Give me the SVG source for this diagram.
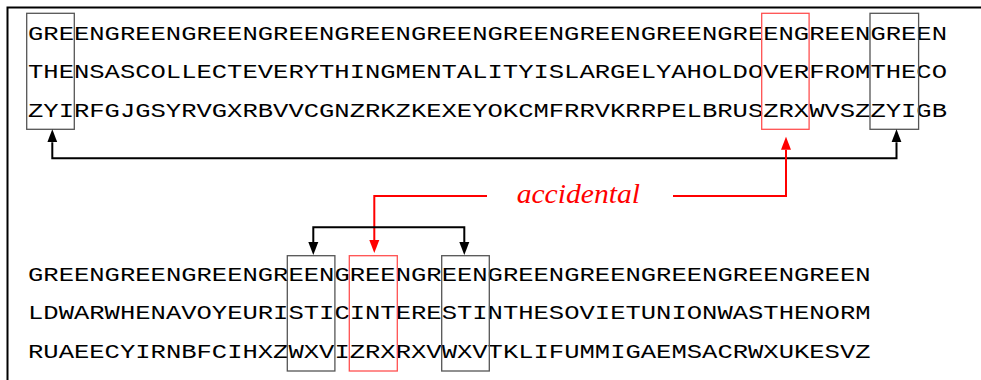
<svg xmlns="http://www.w3.org/2000/svg" width="981" height="380" viewBox="0 0 981 380">
<defs>
<style>
.tt{font-family:"Liberation Mono","DejaVu Sans Mono",monospace;font-size:20.5px;fill:#000;}
.box{fill:none;stroke:#555;stroke-width:1.3;}
.rbox{fill:none;stroke:#ff5050;stroke-width:1.3;}
.conn{fill:none;stroke:#000;stroke-width:2;}
.rconn{fill:none;stroke:#ff0000;stroke-width:2;}
.lbl{font-family:"Liberation Serif","DejaVu Serif",serif;font-style:italic;font-size:27px;fill:#ff0000;}
</style>
<marker id="ah" markerUnits="userSpaceOnUse" markerWidth="14" markerHeight="12" refX="0" refY="5" orient="auto-start-reverse" viewBox="0 0 14 10">
<path d="M0,0 L13,5 L0,10 z" fill="#000"/>
</marker>
<marker id="rah" markerUnits="userSpaceOnUse" markerWidth="14" markerHeight="12" refX="0" refY="5" orient="auto-start-reverse" viewBox="0 0 14 10">
<path d="M0,0 L13,5 L0,10 z" fill="#ff0000"/>
</marker>
</defs>
<rect width="981" height="380" fill="#fff"/>
<path d="M7.5,380 V7.5 H981" fill="none" stroke="#000" stroke-width="2"/>

<g id="top-text">
<text class="tt" x="28" y="39.5" textLength="919" lengthAdjust="spacingAndGlyphs">GREENGREENGREENGREENGREENGREENGREENGREENGREENGREENGREENGREEN</text>
<text class="tt" x="28" y="78" textLength="919" lengthAdjust="spacingAndGlyphs">THENSASCOLLECTEVERYTHINGMENTALITYISLARGELYAHOLDOVERFROMTHECO</text>
<text class="tt" x="28" y="116.7" textLength="919" lengthAdjust="spacingAndGlyphs">ZYIRFGJGSYRVGXRBVVCGNZRKZKEXEYOKCMFRRVKRRPELBRUSZRXWVSZZYIGB</text>
</g>
<g id="bottom-text">
<text class="tt" x="28" y="280.7" textLength="842.6" lengthAdjust="spacingAndGlyphs">GREENGREENGREENGREENGREENGREENGREENGREENGREENGREENGREEN</text>
<text class="tt" x="28" y="319.3" textLength="842.6" lengthAdjust="spacingAndGlyphs">LDWARWHENAVOYEURISTICINTERESTINTHESOVIETUNIONWASTHENORM</text>
<text class="tt" x="28" y="358" textLength="842.6" lengthAdjust="spacingAndGlyphs">RUAEECYIRNBFCIHXZWXVIZRXRXVWXVTKLIFUMMIGAEMSACRWXUKESVZ</text>
</g>

<g id="box-top-left"><rect class="box" x="26.7" y="13.3" width="47.6" height="116"/></g>
<g id="box-top-red"><rect class="rbox" x="761.7" y="13.3" width="47.4" height="116"/></g>
<g id="box-top-right"><rect class="box" x="870" y="13.3" width="48.6" height="116"/></g>
<g id="box-bot-1"><rect class="box" x="287.3" y="255.7" width="47.6" height="115.3"/></g>
<g id="box-bot-red"><rect class="rbox" x="349.3" y="255.7" width="48" height="115.3"/></g>
<g id="box-bot-3"><rect class="box" x="441.7" y="255.7" width="47.6" height="115.3"/></g>

<g id="label-accidental"><text class="lbl" x="516.7" y="203.3" textLength="123.3" lengthAdjust="spacingAndGlyphs">accidental</text></g>

<g id="connectors">
<path class="conn" d="M52.3,142.3 V158.3 H896.5 V142.3" marker-start="url(#ah)" marker-end="url(#ah)"/>
<path class="rconn" d="M673,196 H786 V149.7" marker-end="url(#rah)"/>
<path class="rconn" d="M487,196 H374.3 V240" marker-end="url(#rah)"/>
<path class="conn" d="M313.3,242 V227.3 H464.3 V242" marker-start="url(#ah)" marker-end="url(#ah)"/>
</g>
</svg>
